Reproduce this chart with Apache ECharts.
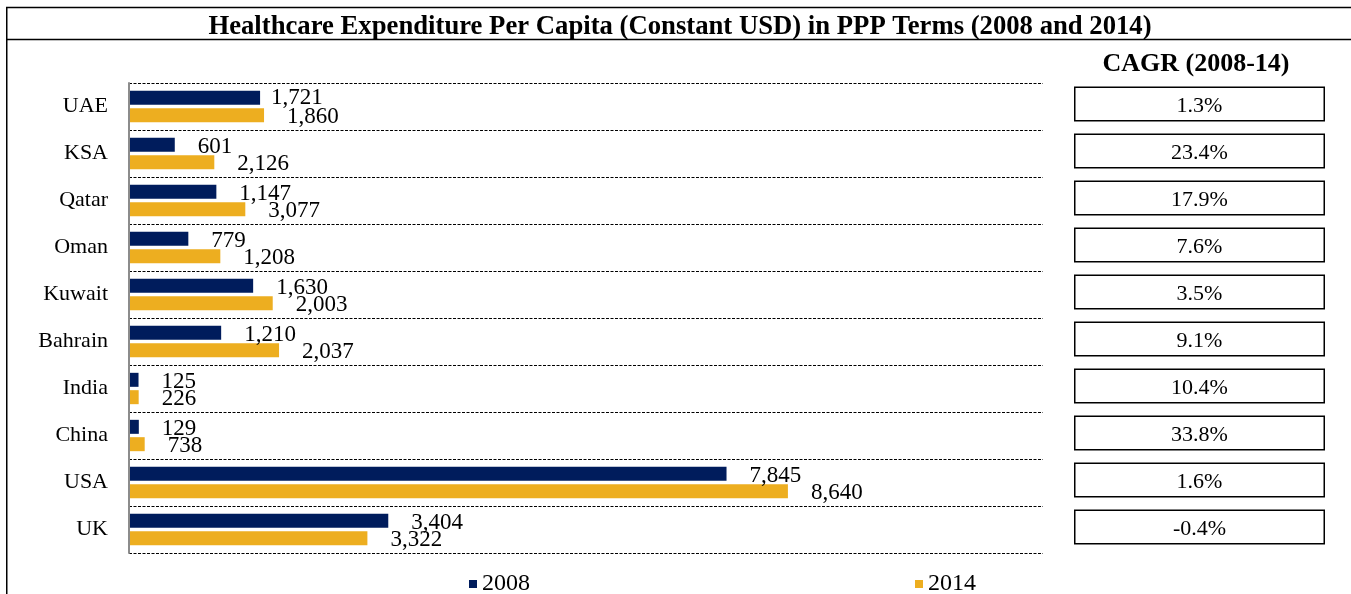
<!DOCTYPE html>
<html>
<head>
<meta charset="utf-8">
<script src="https://cdn.jsdelivr.net/npm/echarts@6/dist/echarts.min.js"></script>
<style>
  html, body { margin: 0; padding: 0; background: #fff; }
  #chart { width: 1351px; height: 594px; }
</style>
</head>
<body>
<div id="chart"></div>
<script>
// ---- data ----
const categories = ['UAE', 'KSA', 'Qatar', 'Oman', 'Kuwait', 'Bahrain', 'India', 'China', 'USA', 'UK'];
const values2008 = [1721, 601, 1147, 779, 1630, 1210, 125, 129, 7845, 3404];
// printed 2014 labels
const labels2014 = [1860, 2126, 3077, 1208, 2003, 2037, 226, 738, 8640, 3322];
// 2014 bar lengths as drawn in the reference
const bars2014 = [1773, 1120, 1527, 1199, 1887, 1970, 127, 206, 8651, 3130];
const cagr = [1.3, 23.4, 17.9, 7.6, 3.5, 9.1, 10.4, 33.8, 1.6, -0.4];
const seriesNames = ['2008', '2014'];
const titleText = 'Healthcare Expenditure Per Capita (Constant USD) in PPP Terms (2008 and 2014)';
const cagrTitle = 'CAGR (2008-14)';

const FONT = "'Liberation Serif', 'Times New Roman', serif";
const NAVY = '#001c5c';
const GOLD = '#edae20';
const fmt = v => v.toLocaleString('en-US');

const chart = echarts.init(document.getElementById('chart'), null, { renderer: 'canvas' });

const labelBase = {
  show: true, position: 'right', distance: 23, offset: [0, 2],
  fontFamily: FONT, fontSize: 23, color: '#000'
};

chart.setOption({
  animation: false,
  textStyle: { fontFamily: FONT },
  grid: [
    { left: 129, right: 308, top: 83, bottom: 41 },
    { left: 1074, width: 251, top: 83, bottom: 41 }
  ],
  xAxis: [
    { type: 'value', gridIndex: 0, min: 0, max: 12000, show: false },
    { type: 'value', gridIndex: 1, min: 0, max: 1, show: false }
  ],
  yAxis: [
    {
      type: 'category', gridIndex: 0, data: categories, inverse: true, z: 3,
      axisLine: { show: true, lineStyle: { color: '#8c8c8c', width: 2 } },
      axisTick: { show: false },
      axisLabel: { fontFamily: FONT, fontSize: 22, color: '#000', margin: 21 },
      splitLine: { show: true, lineStyle: { color: '#000', width: 1.2, type: [3, 1.5] } }
    },
    { type: 'category', gridIndex: 1, data: categories, inverse: true, show: false }
  ],
  legend: [
    {
      data: [seriesNames[0]], left: 469, top: 572, padding: 0,
      icon: 'rect', itemWidth: 8, itemHeight: 8,
      textStyle: { fontFamily: FONT, fontSize: 24, color: '#000', lineHeight: 24 }
    },
    {
      data: [seriesNames[1]], left: 915, top: 572, padding: 0,
      icon: 'rect', itemWidth: 8, itemHeight: 8,
      textStyle: { fontFamily: FONT, fontSize: 24, color: '#000', lineHeight: 24 }
    }
  ],
  title: [
    {
      text: titleText, left: 675, textAlign: 'center', top: 9,
      textStyle: { fontFamily: FONT, fontSize: 26.7, fontWeight: 'bold', color: '#000' }
    },
    {
      text: cagrTitle, left: 1191, textAlign: 'center', top: 46,
      textStyle: { fontFamily: FONT, fontSize: 26, fontWeight: 'bold', color: '#000' }
    }
  ],
  graphic: [
    { type: 'line', shape: { x1: 6.75, y1: 7, x2: 6.75, y2: 600 }, style: { stroke: '#000', lineWidth: 1.5 }, silent: true },
    { type: 'line', shape: { x1: 6, y1: 7.5, x2: 1351, y2: 7.5 }, style: { stroke: '#000', lineWidth: 1.5 }, silent: true },
    { type: 'line', shape: { x1: 6, y1: 39.5, x2: 1351, y2: 39.5 }, style: { stroke: '#000', lineWidth: 1.5 }, silent: true }
  ],
  series: [
    {
      name: seriesNames[0], type: 'bar', xAxisIndex: 0, yAxisIndex: 0,
      barWidth: 14, barGap: '24%',
      itemStyle: { color: NAVY },
      label: Object.assign({}, labelBase, { formatter: p => fmt(values2008[p.dataIndex]) }),
      data: values2008.map((v, i) => i === 0 ? { value: v, label: { distance: 11, offset: [0, 0] } } : v),
      silent: true
    },
    {
      name: seriesNames[1], type: 'bar', xAxisIndex: 0, yAxisIndex: 0,
      barWidth: 14, barGap: '24%',
      itemStyle: { color: GOLD },
      label: Object.assign({}, labelBase, { formatter: p => fmt(labels2014[p.dataIndex]) }),
      data: bars2014,
      silent: true
    },
    {
      name: 'CAGR', type: 'custom', xAxisIndex: 1, yAxisIndex: 1,
      silent: true,
      data: cagr.map((c, i) => [i, c]),
      renderItem: function (params, api) {
        const i = api.value(0);
        const left = api.coord([0, i]);
        const right = api.coord([1, i]);
        const h = 33.5;
        const cy = left[1] - 2.5;
        return {
          type: 'group',
          children: [
            {
              type: 'rect',
              shape: { x: left[0] + 0.75, y: cy - h / 2, width: right[0] - left[0] - 1.5, height: h },
              style: { fill: '#fff', stroke: '#000', lineWidth: 1.5 }
            },
            {
              type: 'text',
              style: {
                x: (left[0] + right[0]) / 2, y: cy + 2,
                text: cagr[i].toFixed(1) + '%',
                align: 'center', verticalAlign: 'middle',
                fontFamily: FONT, fontSize: 22, fill: '#000'
              }
            }
          ]
        };
      }
    }
  ]
});
</script>
</body>
</html>
